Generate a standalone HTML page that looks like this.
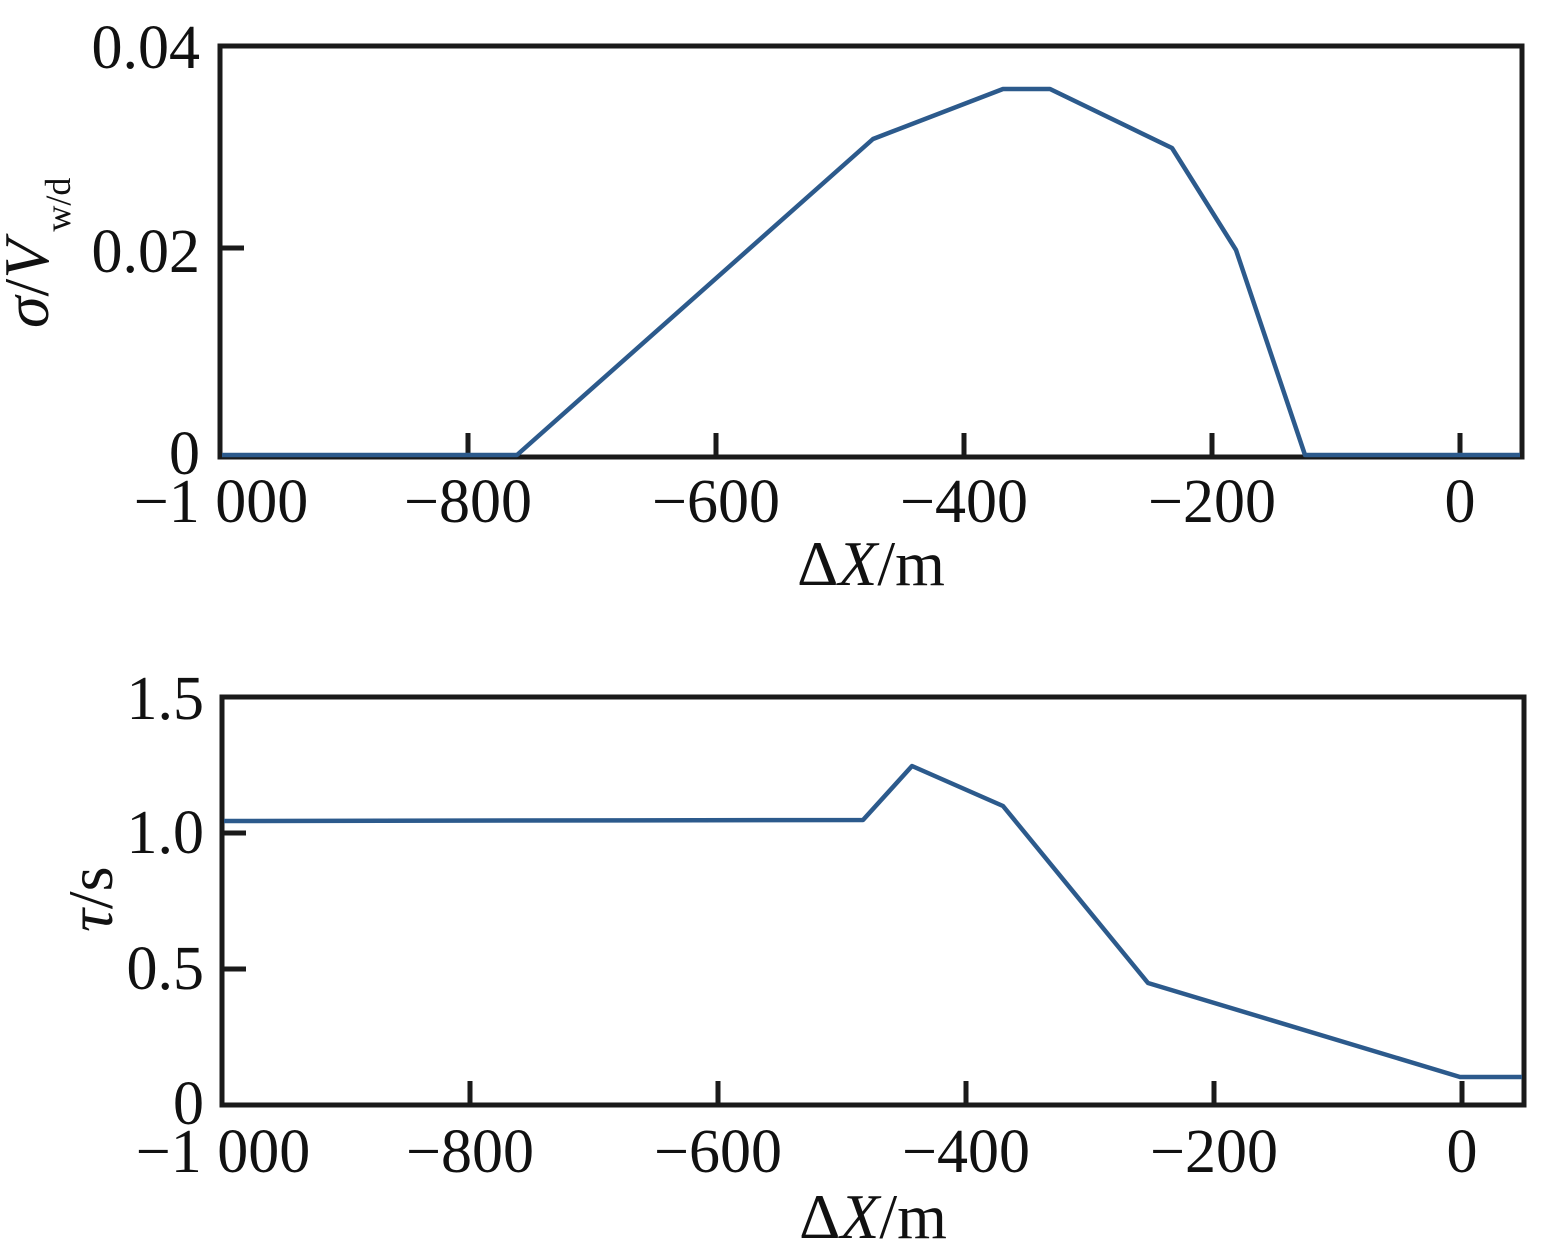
<!DOCTYPE html>
<html><head><meta charset="utf-8"><style>
html,body{margin:0;padding:0;background:#fff;}
svg{display:block;}
text{font-family:"Liberation Serif",serif;fill:#111;}
</style></head><body>
<svg width="1557" height="1248" viewBox="0 0 1557 1248" xmlns="http://www.w3.org/2000/svg">
<g stroke="#1a1a1a" stroke-width="5" fill="none">
<rect x="220" y="46" width="1302" height="411"/>
<path d="M468 457v-24M716 457v-24M964 457v-24M1212 457v-24M1460 457v-24M220 248h24"/>
<rect x="222" y="697" width="1302" height="408"/>
<path d="M470 1105v-24M718 1105v-24M966 1105v-24M1214 1105v-24M1462 1105v-24M222 969h24M222 833h24"/>
</g>
<g stroke="#2c5a8c" stroke-width="4.5" fill="none" stroke-linejoin="round">
<polyline points="222,455 517,455 873,139 1003,89 1050,89 1172,148 1236,250 1305,455 1520,455"/>
<polyline points="224,821 863,820 912,766 1003,806 1148,983 1460,1077 1522,1077"/>
</g>
<g font-size="62">
<text x="200" y="68" text-anchor="end">0.04</text>
<text x="200" y="272" text-anchor="end">0.02</text>
<text x="200" y="474" text-anchor="end">0</text>
<text x="221" y="522" text-anchor="middle">−1 000</text>
<text x="468" y="522" text-anchor="middle">−800</text>
<text x="716" y="522" text-anchor="middle">−600</text>
<text x="964" y="522" text-anchor="middle">−400</text>
<text x="1212" y="522" text-anchor="middle">−200</text>
<text x="1460" y="522" text-anchor="middle">0</text>
<text x="871" y="585" text-anchor="middle" font-size="64">Δ<tspan font-style="italic">X</tspan>/m</text>
<text transform="translate(48,328) rotate(-90)" font-size="64"><tspan font-style="italic">σ</tspan>/<tspan font-style="italic">V</tspan><tspan font-size="36" dy="22" dx="8">w/d</tspan></text>

<text x="204" y="719" text-anchor="end">1.5</text>
<text x="204" y="853" text-anchor="end">1.0</text>
<text x="204" y="989" text-anchor="end">0.5</text>
<text x="204" y="1124" text-anchor="end">0</text>
<text x="223" y="1172" text-anchor="middle">−1 000</text>
<text x="470" y="1172" text-anchor="middle">−800</text>
<text x="718" y="1172" text-anchor="middle">−600</text>
<text x="966" y="1172" text-anchor="middle">−400</text>
<text x="1214" y="1172" text-anchor="middle">−200</text>
<text x="1462" y="1172" text-anchor="middle">0</text>
<text x="873" y="1238" text-anchor="middle" font-size="64">Δ<tspan font-style="italic">X</tspan>/m</text>
<text transform="translate(112,932) rotate(-90)" font-size="64"><tspan font-style="italic">τ</tspan>/s</text>
</g>
</svg>
</body></html>
